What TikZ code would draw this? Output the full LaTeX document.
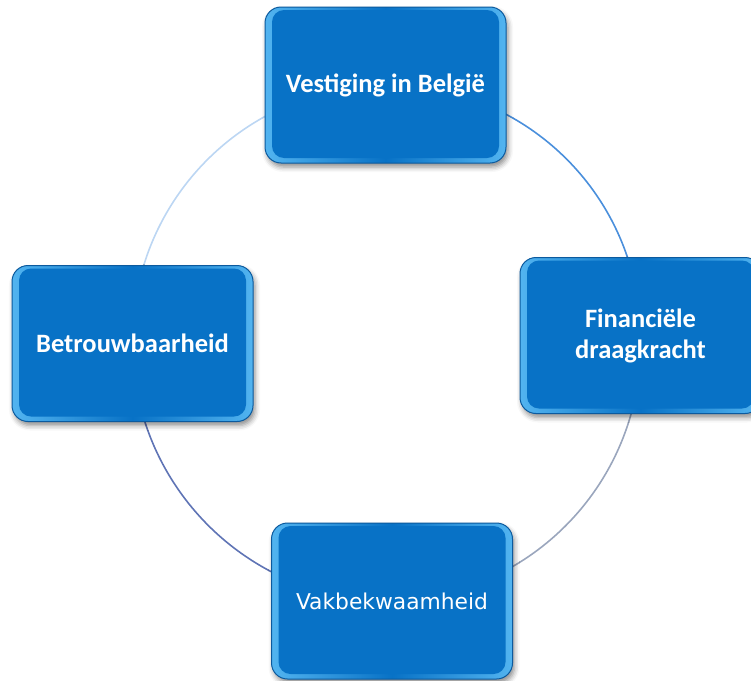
\documentclass[tikz,border=0pt]{standalone}
\usepackage{fontspec}
\setmainfont{Carlito}
\newfontfamily\dvfont{DejaVu Sans}
\usetikzlibrary{backgrounds,shadows.blur}
\definecolor{boxblue}{HTML}{0872C6}
\definecolor{boxedge}{HTML}{0B5A9E}
\definecolor{boxlight}{HTML}{52B4F0}
\definecolor{arcA}{HTML}{BCD6F3}
\definecolor{arcB}{HTML}{4A8FDC}
\definecolor{arcC}{HTML}{9AA6BD}
\definecolor{arcD}{HTML}{5F74B5}
\tikzset{
  x=1pt, y=-1pt,
  bluebox/.style={rectangle, rounded corners=16pt, minimum width=241pt, minimum height=156pt,
    draw=boxedge, line width=1pt, left color=boxlight, right color=boxlight, middle color=boxblue,
    text=white, align=center, font=\bfseries\fontsize{26.5}{31}\selectfont,
    blur shadow={shadow xshift=2pt, shadow yshift=-4pt, shadow blur radius=5pt, shadow opacity=45},
    path picture={\fill[boxblue, rounded corners=12pt]
      ([xshift=7pt,yshift=-3pt]path picture bounding box.north west) rectangle
      ([xshift=-7pt,yshift=5pt]path picture bounding box.south east);}},
  ring/.style={line width=1.6pt}
}
\begin{document}
\begin{tikzpicture}
\useasboundingbox (0,0) rectangle (751,680);
\clip (0,0) rectangle (751,680);
\node[bluebox] (top) at (385.5,85) {Vestiging in België};
\node[bluebox] (right) at (640.5,335.5) {Financiële\\draagkracht};
\node[bluebox] (left) at (132.5,343.5) {Betrouwbaarheid};
\node[bluebox, font=\dvfont\fontsize{21.8}{26}\selectfont] (bottom) at (392,601) {Vakbekwaamheid};
\begin{scope}[on background layer]
\draw[ring, arcB] (top.center) to[bend left=45] (right.center);
\draw[ring, arcC] (right.center) to[bend left=45] (bottom.center);
\draw[ring, arcD] (bottom.center) to[bend left=45] (left.center);
\draw[ring, arcA] (left.center) to[bend left=45] (top.center);
\end{scope}
\end{tikzpicture}
\end{document}
